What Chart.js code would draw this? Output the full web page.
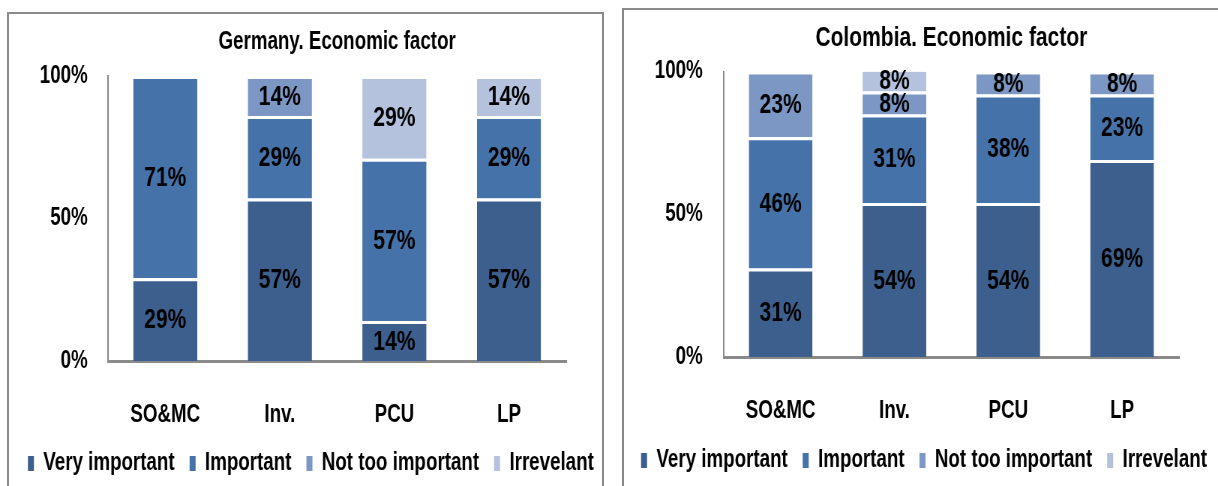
<!DOCTYPE html>
<html>
<head>
<meta charset="utf-8">
<script src="https://cdn.jsdelivr.net/npm/chart.js@4/dist/chart.umd.min.js"></script>
<style>
  html, body { margin: 0; padding: 0; background: #fff; }
  body { width: 1218px; height: 486px; overflow: hidden; position: relative; }
  .panel { position: absolute; border: 2px solid #8a8a8a; border-bottom: none; background: #fff; overflow: hidden; }
  #panelDe { left: 7px; top: 12px; width: 593px; height: 480px; }
  #panelCo { left: 622px; top: 8px; width: 600px; height: 484px; }
  /* condensed lettering: the charts are laid out wide and squeezed horizontally */
  canvas { display: block; transform-origin: 0 0; transform: scaleX(0.75); }
</style>
</head>
<body>
<div class="panel" id="panelDe"><canvas id="chartDe" width="805" height="472"></canvas></div>
<div class="panel" id="panelCo"><canvas id="chartCo" width="800" height="473"></canvas></div>
<script>
// Survey categories and answer levels
const categories = ['SO&MC', 'Inv.', 'PCU', 'LP'];
const seriesNames = ['Very important', 'Important', 'Not too important', 'Irrevelant'];
const yTicks = [0, 50, 100];

// Germany, percentage of answers per level
const germanyVeryImportant = [29, 57, 14, 57];
const germanyImportant     = [71, 29, 57, 29];
const germanyNotTooImp     = [0, 14, 0, 0];
const germanyIrrelevant    = [0, 0, 29, 14];

// Colombia, percentage of answers per level
const colombiaVeryImportant = [31, 54, 54, 69];
const colombiaImportant     = [46, 31, 38, 23];
const colombiaNotTooImp     = [23, 8, 8, 8];
const colombiaIrrelevant    = [0, 8, 0, 0];

const seriesColors = ['#3c5f8e', '#4572a8', '#7c97c4', '#b4c2de'];
const FONT_FAMILY = "'Liberation Sans', Arial, sans-serif";

// Writes each non-zero segment value in the middle of its bar segment
const segmentLabels = {
  id: 'segmentLabels',
  afterDatasetsDraw(chart) {
    const ctx = chart.ctx;
    ctx.save();
    ctx.font = 'bold 28px ' + FONT_FAMILY;
    ctx.fillStyle = '#000';
    ctx.textAlign = 'center';
    ctx.textBaseline = 'middle';
    chart.data.datasets.forEach((ds, di) => {
      const meta = chart.getDatasetMeta(di);
      meta.data.forEach((bar, i) => {
        const v = ds.data[i];
        if (!v) return;
        ctx.fillText(v + '%', bar.x, (bar.y + bar.base) / 2 + 1);
      });
    });
    ctx.restore();
  }
};

function buildChart(canvasId, title, series, opts) {
  const datasets = series.map((values, k) => ({
    label: seriesNames[k],
    data: values,
    backgroundColor: seriesColors[k],
    borderColor: '#ffffff',
    borderWidth: { top: 3, left: 0, right: 0, bottom: 0 },
    borderSkipped: 'start',
    categoryPercentage: 1,
    barPercentage: 0.56
  }));

  return new Chart(document.getElementById(canvasId), {
    type: 'bar',
    data: { labels: categories, datasets },
    plugins: [segmentLabels],
    options: {
      responsive: false,
      animation: false,
      events: [],
      layout: { padding: 0 },
      plugins: {
        tooltip: { enabled: false },
        title: {
          display: true,
          fullSize: false,
          text: title,
          color: '#000',
          font: { family: FONT_FAMILY, size: opts.titleSize, weight: 'bold', lineHeight: 1.2 },
          padding: opts.titlePad
        },
        legend: {
          position: 'bottom',
          labels: {
            color: '#000',
            font: { family: FONT_FAMILY, size: 25, weight: 'bold' },
            boxWidth: 8,
            boxHeight: 15,
            padding: 20,
            generateLabels(chart) {
              return Chart.defaults.plugins.legend.labels.generateLabels(chart)
                .map(item => Object.assign(item, { lineWidth: 0, strokeStyle: 'transparent' }));
            }
          }
        }
      },
      scales: {
        x: {
          stacked: true,
          grid: { display: false, drawTicks: false },
          border: { display: true, color: '#8a8a8a', width: 3 },
          ticks: {
            color: '#000',
            padding: 39,
            font: { family: FONT_FAMILY, size: 25, weight: 'bold' }
          },
          afterFit(scale) { scale.height = opts.xHeight; }
        },
        y: {
          stacked: true,
          min: 0,
          max: 100,
          grid: { display: false, drawTicks: false },
          border: { display: true, color: '#8a8a8a', width: 2 },
          afterBuildTicks(scale) { scale.ticks = yTicks.map(v => ({ value: v })); },
          ticks: {
            color: '#000',
            padding: opts.yLabelPad,
            font: { family: FONT_FAMILY, size: 25, weight: 'bold' },
            callback: v => v + '%'
          },
          afterFit(scale) { scale.width = opts.yWidth; }
        },
        // empty margin on the right of the plot; keeps the legend full width
        yRight: {
          position: 'right',
          display: true,
          grid: { display: false, drawTicks: false },
          border: { display: false },
          ticks: { display: false },
          afterFit(scale) { scale.width = opts.rightPad; }
        }
      }
    }
  });
}

buildChart('chartDe', 'Germany. Economic factor',
  [germanyVeryImportant, germanyImportant, germanyNotTooImp, germanyIrrelevant],
  { yWidth: 132, yLabelPad: 27, rightPad: 62, xHeight: 70,
    titleSize: 25, titlePad: { top: 13, bottom: 19 } });
buildChart('chartCo', 'Colombia. Economic factor',
  [colombiaVeryImportant, colombiaImportant, colombiaNotTooImp, colombiaIrrelevant],
  { yWidth: 133, yLabelPad: 28, rightPad: 60, xHeight: 71,
    titleSize: 28, titlePad: { top: 11, bottom: 17 } });
</script>
</body>
</html>
